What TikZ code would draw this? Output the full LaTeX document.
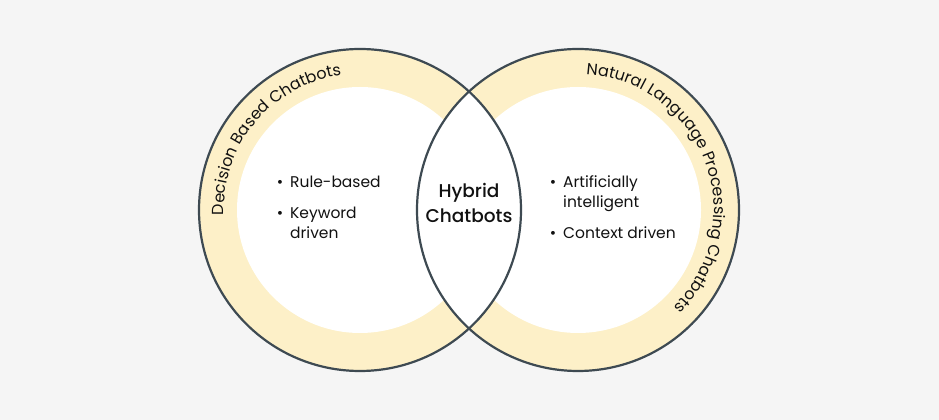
\documentclass[tikz,border=0pt]{standalone}
\usepackage{fontspec}
\setmainfont{Poppins}
\newfontfamily\popmed{Poppins Medium}
\usetikzlibrary{decorations.text}
\definecolor{bgc}{HTML}{F5F5F5}
\definecolor{ringc}{HTML}{FDF0C8}
\definecolor{edgec}{HTML}{3E4A52}
\definecolor{textc}{HTML}{111111}
\newcommand\ringfnt{\fontsize{16}{18}\selectfont\color{textc}}
\tikzset{
  body/.style={font=\fontsize{15.5}{19.5}\selectfont, text=textc, inner sep=0pt, anchor=base west},
  bul/.style={font=\fontsize{15.5}{19.5}\selectfont, text=textc, inner sep=0pt, anchor=base},
  hyb/.style={font=\popmed\fontsize{18.5}{24.5}\selectfont, text=textc, inner sep=0pt, anchor=base},
  edge/.style={draw=edgec, line width=2.2pt},
}
\begin{document}
\begin{tikzpicture}[x=1pt,y=1pt]
\useasboundingbox (0,0) rectangle (939,420);
\fill[bgc] (0,0) rectangle (939,420);
% rings
\coordinate (lc) at (360,210);
\coordinate (rc) at (578,210);
\fill[ringc] (lc) circle (161);
\fill[ringc] (rc) circle (161);
\fill[white] (lc) circle (123);
\fill[white] (rc) circle (123);
\begin{scope}
  \clip (lc) circle (161);
  \fill[white] (rc) circle (161);
\end{scope}
\draw[edge] (lc) circle (161);
\draw[edge] (rc) circle (161);
% ring labels
\path[decorate, decoration={text along path, text align=center,
   text={|\ringfnt|Decision Based Chatbots}}]
   (lc) ++(201:136) arc[start angle=201, end angle=79, radius=136];
\path[decorate, decoration={text along path, text align=center,
   text={|\ringfnt|Natural Language Processing Chatbots}}]
   (rc) ++(100.5:136) arc[start angle=100.5, end angle=-59.5, radius=136];
% centre
\node[hyb] (hy1) at (469,222) {Hybrid};
\node[hyb] (hy2) at (469,197.5) {Chatbots};
% left list
\node[bul] (lb1) at (280,232) {•};
\node[body] (l1) at (290,232) {Rule-based};
\node[bul] (lb2) at (280,201) {•};
\node[body] (l2) at (290,201) {Keyword};
\node[body] (l3) at (290,181.5) {driven};
% right list
\node[bul] (rb1) at (553,232) {•};
\node[body] (r1) at (563,232) {Artificially};
\node[body] (r2) at (563,212.5) {intelligent};
\node[bul] (rb2) at (553,181.5) {•};
\node[body] (r3) at (563,181.5) {Context driven};
\end{tikzpicture}
\end{document}
